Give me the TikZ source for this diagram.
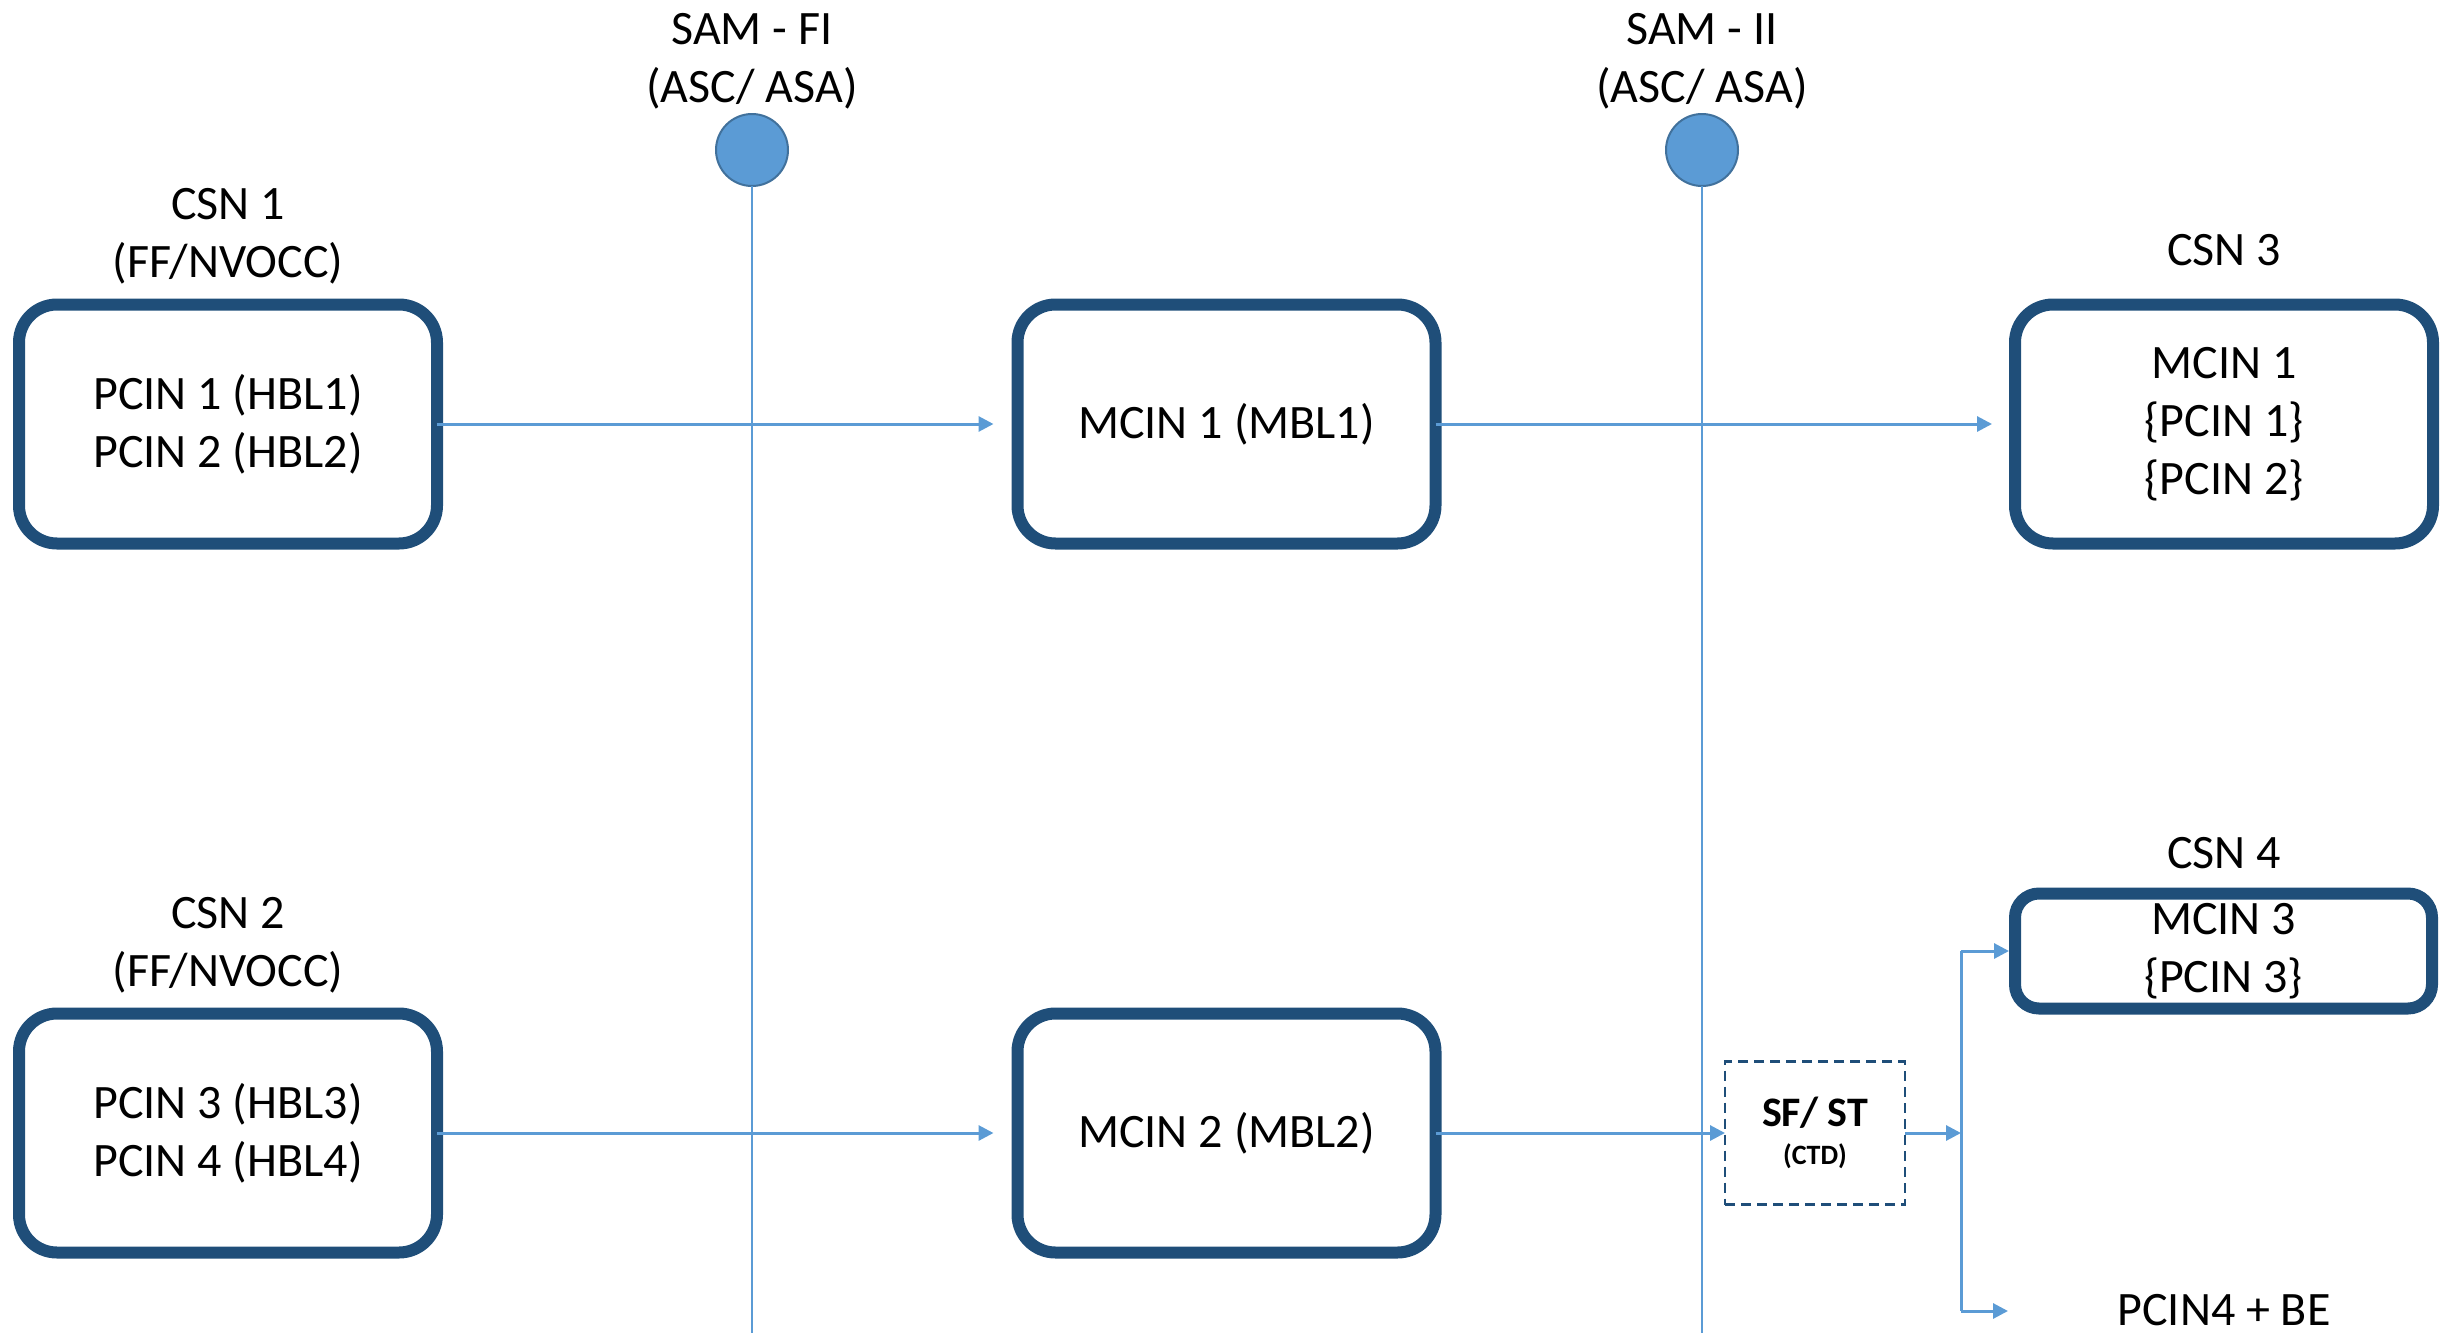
\documentclass[tikz,border=0pt]{standalone}
\usepackage{fontspec}
\setmainfont{Carlito}
\usetikzlibrary{arrows.meta}
\definecolor{boxblue}{RGB}{31,78,121}
\definecolor{lineblue}{RGB}{91,155,213}
\definecolor{circedge}{RGB}{65,113,156}
\begin{document}
\begin{tikzpicture}[x=1pt,y=-1pt,
  every node/.style={font=\fontsize{48}{58}\selectfont, inner sep=0pt, outer sep=0pt},
  bigbox/.style={draw=boxblue, line width=12pt, rounded corners=38pt,
    minimum width=418pt, minimum height=239pt, align=center},
  smallbox/.style={draw=boxblue, line width=12pt, rounded corners=24pt,
    minimum width=417pt, minimum height=115pt, align=center},
  dashbox/.style={draw=boxblue, line width=2.5pt, dash pattern=on 10pt off 6pt,
    minimum width=180pt, minimum height=143pt, align=center,
    font=\bfseries\fontsize{42}{38}\selectfont},
  toptext/.style={align=center},
  flow/.style={draw=lineblue, line width=3pt, -{Triangle[length=15pt,width=15pt]}},
  plainline/.style={draw=lineblue, line width=3pt},
  guide/.style={draw=lineblue, line width=2pt},
  sam/.style={circle, fill=lineblue, draw=circedge, line width=2pt, minimum size=72pt},
]
\useasboundingbox (0,0) rectangle (2450,1333);

% SAM markers and vertical guides
\node[sam] (samfi) at (752,150) {};
\node[sam] (samii) at (1702,150) {};
\coordinate (samfiend) at (752,1333);
\coordinate (samiiend) at (1702,1333);
\draw[guide] (samfi.south) -- (samfiend);
\draw[guide] (samii.south) -- (samiiend);
\node[toptext] (samfit) at (752,61) {SAM - FI\\(ASC/ ASA)};
\node[toptext] (samiit) at (1702,61) {SAM - II\\(ASC/ ASA)};

% boxes
\node[bigbox] (csn1) at (228,424) {PCIN 1 (HBL1)\\PCIN 2 (HBL2)};
\node[bigbox] (mcin1) at (1226.5,424) {MCIN 1 (MBL1)};
\node[bigbox] (csn3) at (2224,424) {MCIN 1\\\{PCIN 1\}\\\{PCIN 2\}};
\node[bigbox] (csn2) at (228,1133) {PCIN 3 (HBL3)\\PCIN 4 (HBL4)};
\node[bigbox] (mcin2) at (1226.5,1133) {MCIN 2 (MBL2)};
\node[smallbox] (csn4) at (2223.5,951) {MCIN 3\\\{PCIN 3\}};
\node[dashbox] (sfst) at (1815,1133) {SF/ ST\\{\fontsize{28}{30}\selectfont (CTD)}};

% titles
\node[toptext] (csn1t) at (228,236) {CSN 1\\(FF/NVOCC)};
\node[toptext] (csn2t) at (228,945) {CSN 2\\(FF/NVOCC)};
\node[anchor=base] (csn3t) at (2224,265) {CSN 3};
\node[anchor=base] (csn4t) at (2224,868) {CSN 4};
\node[anchor=base] (pcinbe) at (2224,1325) {PCIN4 + BE};

% connectors
\coordinate (junc) at (1961,1133);
\coordinate (jtop) at (1961,951);
\coordinate (jbot) at (1961,1311);
\coordinate (beend) at (2008,1311);
\draw[flow, shorten >=24pt] (csn1.east) -- (mcin1.west);
\draw[flow, shorten >=23pt] (mcin1.east) -- (csn3.west);
\draw[flow, shorten >=24pt] (csn2.east) -- (mcin2.west);
\draw[flow] (mcin2.east) -- (sfst.west);
\draw[flow] (sfst.east) -- (junc);
\draw[plainline] (jtop) -- (jbot);
\draw[flow, shorten >=6pt] (jtop) -- (csn4.west);
\draw[flow] (jbot) -- (beend);
\end{tikzpicture}
\end{document}
